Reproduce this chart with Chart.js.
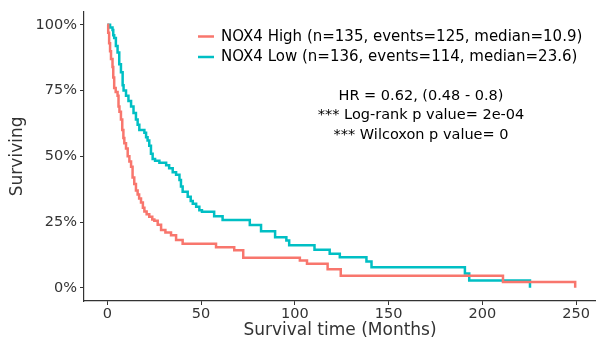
<!DOCTYPE html>
<html>
<head>
<meta charset="utf-8">
<script src="https://cdn.jsdelivr.net/npm/chart.js@4/dist/chart.umd.min.js"></script>
<style>
html, body { margin: 0; padding: 0; background: #fff; }
</style>
</head>
<body>
<canvas id="km" width="596" height="343"></canvas>
<script>
// Kaplan-Meier curves (time in months, survival in %)
var highTime = [0, 0.5, 1, 1.5, 2, 2.8, 3.2, 3.7, 4.5, 5.5, 6, 6.5, 7.3, 8, 8.6, 9.1, 10, 10.9, 11.8, 12.7,
  13.5, 14.4, 15.3, 16.2, 17, 18, 19, 19.8, 21, 22.4, 24, 25.1, 26.9, 28.7, 31, 34, 36.7, 40.2, 58, 67.7,
  72.5, 102.7, 106.5, 117.5, 124.5, 211, 249.5];
var highSurv = [100, 97, 93, 90, 87, 84, 80, 76, 74.5, 73, 69, 67, 64, 60, 57, 55, 53, 50, 48, 46,
  42, 39.5, 37, 35.5, 34, 32.5, 30.5, 29, 28, 27, 26, 25.5, 24, 22, 21, 20, 18.2, 16.8, 15.4, 14.3,
  11.4, 10.4, 9.2, 7.1, 4.6, 2.2, 0];

var lowTime = [0, 1.5, 2.8, 3.2, 3.7, 4.6, 5.5, 6.4, 7.3, 8.2, 8.7, 10, 11.3, 12.7, 14, 15.3, 16.2, 17.1,
  19.8, 20.7, 21.5, 22.4, 23.3, 24.2, 25.5, 27.8, 31.4, 33, 34.9, 36.7, 38.5, 39.3, 40.2, 42.9, 44.5, 45.6,
  47.4, 49.1, 50.5, 57, 61.5, 76, 82, 89.5, 95.5, 97, 110.5, 118.6, 124, 138.2, 140.9, 190.7, 193, 225.4];
var lowSurv = [100, 99, 98, 96, 95, 92, 89.5, 85, 82, 77, 75, 73, 71, 69, 66.5, 64, 62, 60,
  59, 57.3, 56, 54, 51, 49, 48.3, 47.6, 46.6, 45.5, 44, 43, 41, 38.5, 36.5, 34.6, 33, 32,
  30.8, 29.5, 28.9, 27.2, 25.8, 23.9, 21.5, 19.2, 18, 16.2, 14.5, 13, 11.6, 10, 7.8, 5.5, 2.8, 0];

var groupNames = ["NOX4 High (n=135, events=125, median=10.9)", "NOX4 Low (n=136, events=114, median=23.6)"];
var groupColors = ["#F8766D", "#00BFC4"];
var statLines = ["HR = 0.62, (0.48 - 0.8)", "*** Log-rank p value= 2e-04", "*** Wilcoxon p value= 0"];
var xTicks = [0, 50, 100, 150, 200, 250];
var yTicks = [0, 25, 50, 75, 100];

function toPoints(t, s) {
  return t.map(function (v, i) { return { x: v, y: s[i] }; });
}

var FONT = "'DejaVu Sans', sans-serif";

var overlay = {
  id: "overlay",
  afterDraw: function (chart) {
    var ctx = chart.ctx;
    ctx.save();
    // legend
    ctx.font = "15px " + FONT;
    ctx.textBaseline = "middle";
    ctx.textAlign = "left";
    for (var i = 0; i < groupNames.length; i++) {
      var y = 36.5 + i * 20.5;
      ctx.strokeStyle = groupColors[i];
      ctx.lineWidth = 2.5;
      ctx.beginPath();
      ctx.moveTo(198, y);
      ctx.lineTo(214, y);
      ctx.stroke();
      ctx.fillStyle = "#000";
      ctx.fillText(groupNames[i], 221, y + 0.5);
    }
    // test statistics
    ctx.font = "14.5px " + FONT;
    ctx.textAlign = "center";
    for (var j = 0; j < statLines.length; j++) {
      ctx.fillText(statLines[j], 421, 96 + j * 19.5);
    }
    ctx.restore();
  }
};

new Chart(document.getElementById("km"), {
  type: "line",
  data: {
    datasets: [
      { label: groupNames[0], data: toPoints(highTime, highSurv), borderColor: groupColors[0],
        borderWidth: 2.5, stepped: "before", pointRadius: 0, fill: false },
      { label: groupNames[1], data: toPoints(lowTime, lowSurv), borderColor: groupColors[1],
        borderWidth: 2.5, stepped: "before", pointRadius: 0, fill: false }
    ]
  },
  options: {
    responsive: false,
    animation: false,
    layout: { padding: { top: 11, right: 0, left: 0, bottom: 0 } },
    plugins: { legend: { display: false }, tooltip: { enabled: false } },
    scales: {
      x: {
        type: "linear",
        min: -12.4,
        max: 260.6,
        afterBuildTicks: function (s) { s.ticks = xTicks.map(function (v) { return { value: v }; }); },
        afterFit: function (s) { s.height = 42; },
        grid: { drawOnChartArea: false, drawTicks: true, tickLength: 4, color: "#333" },
        border: { display: true, color: "#333", width: 1.2 },
        ticks: { color: "#333", font: { family: FONT, size: 14.5 }, padding: 1, maxRotation: 0 },
        title: { display: true, text: "Survival time (Months)", color: "#333",
          font: { family: FONT, size: 17 }, padding: { top: 0, bottom: 2 } }
      },
      y: {
        min: -5,
        max: 105,
        afterBuildTicks: function (s) { s.ticks = yTicks.map(function (v) { return { value: v }; }); },
        afterFit: function (s) { s.width = 84; },
        grid: { drawOnChartArea: false, drawTicks: true, tickLength: 4, color: "#333" },
        border: { display: true, color: "#333", width: 1.2 },
        ticks: { color: "#333", font: { family: FONT, size: 14.5 }, padding: 3,
          callback: function (v) { return v + "%"; } },
        title: { display: true, text: "Surviving", color: "#333",
          font: { family: FONT, size: 17 }, padding: { top: 7, bottom: 0 } }
      }
    }
  },
  plugins: [overlay]
});
</script>
</body>
</html>
